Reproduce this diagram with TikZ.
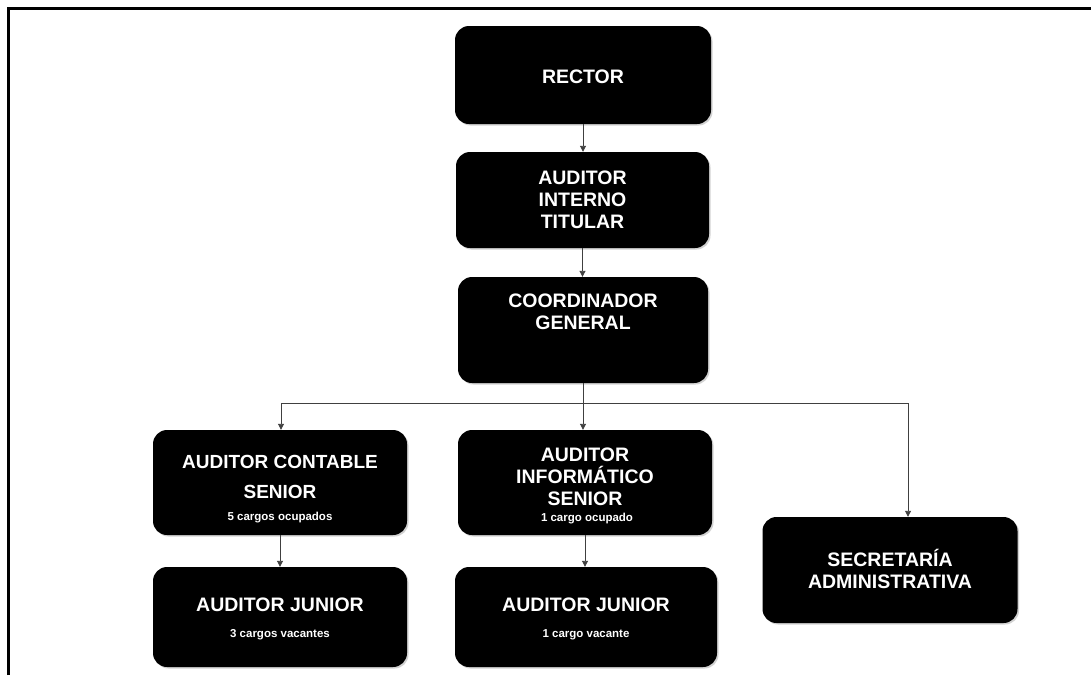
\documentclass[tikz,border=0pt]{standalone}
\usepackage{fontspec}
\setmainfont{Liberation Sans}
\usetikzlibrary{arrows.meta,shadows}
\begin{document}
\begin{tikzpicture}[x=1pt,y=-1pt,
  box/.style={draw=none, fill=black, rounded corners=14pt, inner sep=0pt,
    drop shadow={shadow xshift=1.5pt, shadow yshift=-1.5pt, fill=black!35}},
  title/.style={text=white, align=center, inner sep=0pt,
    font=\bfseries\fontsize{19.5}{22}\selectfont},
  small/.style={text=white, inner sep=0pt, anchor=base,
    font=\bfseries\fontsize{11.5}{13}\selectfont},
  conn/.style={draw=black!75, line width=0.9pt},
  arr/.style={conn, -{Triangle[length=6pt,width=6pt]}}]
\useasboundingbox (0,0) rectangle (1091,675);
\fill[white] (0,0) rectangle (1091,675);
% frame
\draw[line width=2.7pt] (8.7,675) -- (8.7,8.7) -- (1091,8.7);

% boxes
\node[box, minimum width=256pt, minimum height=98pt]  (rector) at (583,75) {};
\node[box, minimum width=253pt, minimum height=96pt]  (ait)    at (582.5,200) {};
\node[box, minimum width=250pt, minimum height=106pt] (coord)  at (583,330) {};
\node[box, minimum width=254pt, minimum height=105pt] (acs)    at (280,482.5) {};
\node[box, minimum width=254pt, minimum height=105pt] (ais)    at (585,482.5) {};
\node[box, minimum width=254pt, minimum height=100pt] (aj1)    at (280,617) {};
\node[box, minimum width=262pt, minimum height=100pt] (aj2)    at (586,617) {};
\node[box, minimum width=255pt, minimum height=106pt] (sa)     at (890,570) {};

% texts
\node[title] (rectorT) at (583,76.5) {RECTOR};
\node[title] (aitT) at (582.5,200) {AUDITOR\\INTERNO\\TITULAR};
\node[title] (coordT) at (583,312) {COORDINADOR\\GENERAL};
\node[title, font=\bfseries\fontsize{19}{30}\selectfont] (acsT) at (280,477) {AUDITOR CONTABLE\\SENIOR};
\node[small] (acsS) at (280,520) {5 cargos ocupados};
\node[title] (aisT) at (585,477) {AUDITOR\\INFORMÁTICO\\SENIOR};
\node[small] (aisS) at (587,521) {1 cargo ocupado};
\node[title] (aj1T) at (280,605) {AUDITOR JUNIOR};
\node[small] (aj1S) at (280,637) {3 cargos vacantes};
\node[title] (aj2T) at (586,605) {AUDITOR JUNIOR};
\node[small] (aj2S) at (586,637) {1 cargo vacante};
\node[title] (saT) at (890,569) {SECRETARÍA\\ADMINISTRATIVA};

% connectors
\coordinate (bus)  at (583,403);
\coordinate (busL) at (281,403);
\coordinate (busR) at (908,403);
\draw[arr] (rector.south) -- (rector.south |- ait.north);
\draw[arr] (ait.south) -- (ait.south |- coord.north);
\draw[conn] (coord.south) -- (bus);
\draw[conn] (busL) -- (busR);
\draw[arr] (busL) -- (busL |- acs.north);
\draw[arr] (bus) -- (bus |- ais.north);
\draw[arr] (busR) -- (busR |- sa.north);
\draw[arr] (acs.south) -- (acs.south |- aj1.north);
\draw[arr] (ais.south) -- (ais.south |- aj2.north);
\end{tikzpicture}
\end{document}
